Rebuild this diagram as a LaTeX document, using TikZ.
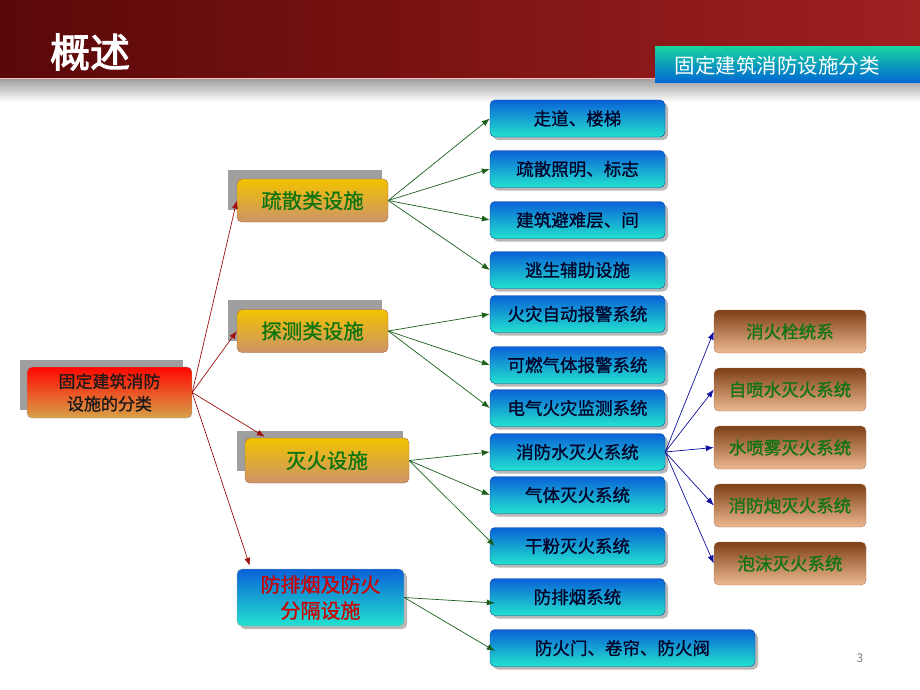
\documentclass[tikz,border=0pt]{standalone}
\usepackage{fontspec}
\setmainfont{Noto Sans CJK SC}
\newfontfamily\titlefont[FakeBold=2.5]{Noto Sans CJK SC}
\newfontfamily\boxfont[FakeBold=0.8]{Noto Sans CJK SC}
\usetikzlibrary{arrows.meta,shadows,backgrounds,calc}
\definecolor{bTop}{HTML}{0A62D8}
\definecolor{bBot}{HTML}{22E2CE}
\definecolor{brTop}{HTML}{7E4016}
\definecolor{brBot}{HTML}{EDB990}
\definecolor{gTop}{HTML}{F2C200}
\definecolor{gBot}{HTML}{CC9468}
\definecolor{txtGreen}{HTML}{0E7410}
\definecolor{lnGreen}{HTML}{1A5E1A}
\definecolor{lnRed}{HTML}{A01010}
\definecolor{lnBlue}{HTML}{1010A0}
\definecolor{bannerL}{HTML}{5A0808}
\definecolor{bannerR}{HTML}{A02020}
\definecolor{subTop}{HTML}{18D2A0}
\definecolor{subBot}{HTML}{0066D6}
\newcommand{\fsz}[2]{\fontsize{#1}{#2}\selectfont}
\tikzset{
  bluebox/.style={rounded corners=5pt, top color=bTop, bottom color=bBot, draw=bTop!70!black,
    minimum width=175pt, minimum height=37pt, inner sep=0pt, text=black!85!blue,
    font=\boxfont\fsz{17.5}{20}, drop shadow={shadow xshift=3pt, shadow yshift=-3pt, fill=gray!70, opacity=0.8}},
  brownbox/.style={rounded corners=5pt, top color=brTop, bottom color=brBot, draw=brTop!70,
    minimum width=152pt, minimum height=43pt, inner sep=0pt, text=txtGreen, font=\boxfont\fsz{17.5}{20}},
  catbox/.style={rounded corners=5pt, top color=gTop, bottom color=gBot, draw=brTop!80,
    minimum height=43pt, inner sep=0pt, text=txtGreen, font=\boxfont\fsz{20.5}{24}},
  catshadow/.style={fill=gray!75},
  redarrow/.style={draw=lnRed, line width=0.7pt, -{Latex[length=8pt,width=6pt]}},
  greenarrow/.style={draw=lnGreen, line width=0.7pt, -{Latex[length=8pt,width=6pt]}},
  bluearrow/.style={draw=lnBlue, line width=0.7pt, -{Latex[length=8pt,width=6pt]}}
}
\begin{document}
\begin{tikzpicture}[x=1pt,y=-1pt]
\useasboundingbox (0,0) rectangle (920,690);
% banner
\shade[left color=bannerL, right color=bannerR] (0,0) rectangle (920,78);
\shade[top color=gray!75, bottom color=white] (0,79) rectangle (920,102);
\draw[color=red!25!white, line width=1pt] (0,78.5) -- (920,78.5);
\node[text=white, font=\titlefont\fsz{40}{44}] (title) at (90,52) {概述};
\shade[top color=subTop, bottom color=subBot] (655,47) rectangle (920,83);
\node[text=white, font=\fsz{20.5}{24}] (subtitle) at (777,66) {固定建筑消防设施分类};
\node[text=gray, font=\fsz{12}{14}] (pagenum) at (860,658) {3};

% root
\node[rounded corners=5pt, top color=red!95!orange, bottom color=gBot!70!gTop, draw=gray!80,
  minimum width=165pt, minimum height=51pt, inner sep=0pt, align=center,
  font=\boxfont\fsz{17}{22.5}, text=black!90] (root) at (109.5,392.5) {固定建筑消防\\设施的分类};

% categories
\node[catbox, minimum width=151pt] (cat1) at (312.5,200.5) {疏散类设施};
\node[catbox, minimum width=151pt] (cat2) at (312.5,331) {探测类设施};
\node[catbox, minimum width=164pt, minimum height=45pt] (cat3) at (327,460.5) {灭火设施};
\node[rounded corners=5pt, top color=bTop, bottom color=bBot, draw=gray!70,
  minimum width=167pt, minimum height=57pt, inner sep=0pt, align=center,
  text=red!80!black, font=\boxfont\fsz{20}{26}, drop shadow={shadow xshift=3pt, shadow yshift=-3pt, fill=gray!70, opacity=0.8}]
  (cat4) at (320.5,597.5) {防排烟及防火\\分隔设施};

% blue boxes
\node[bluebox] (b1) at (577.5,118.5) {走道、楼梯};
\node[bluebox] (b2) at (577.5,169) {疏散照明、标志};
\node[bluebox] (b3) at (577.5,220) {建筑避难层、间};
\node[bluebox] (b4) at (577.5,270) {逃生辅助设施};
\node[bluebox] (b5) at (577.5,314) {火灾自动报警系统};
\node[bluebox] (b6) at (577.5,365) {可燃气体报警系统};
\node[bluebox] (b7) at (577.5,408) {电气火灾监测系统};
\node[bluebox] (b8) at (577.5,452) {消防水灭火系统};
\node[bluebox] (b9) at (577.5,495) {气体灭火系统};
\node[bluebox] (b10) at (577.5,546) {干粉灭火系统};
\node[bluebox] (b11) at (577.5,597) {防排烟系统};
\node[bluebox, minimum width=265pt] (b12) at (622.5,648) {防火门、卷帘、防火阀};

% brown boxes
\node[brownbox] (w1) at (790,331.5) {消火栓统系};
\node[brownbox] (w2) at (790,389.5) {自喷水灭火系统};
\node[brownbox] (w3) at (790,447.5) {水喷雾灭火系统};
\node[brownbox] (w4) at (790,505.5) {消防炮灭火系统};
\node[brownbox] (w5) at (790,563.5) {泡沫灭火系统};

% category shadows
\begin{pgfonlayer}{background}
\fill[catshadow] ($(cat1.north west)+(-9,-9)$) rectangle ($(cat1.south east)+(-6,-12)$);
\fill[catshadow] ($(cat2.north west)+(-9,-9)$) rectangle ($(cat2.south east)+(-6,-12)$);
\fill[catshadow] ($(cat3.north west)+(-8,-7)$) rectangle ($(cat3.south east)+(-6,-12)$);
\fill[catshadow] ($(root.north west)+(-7,-7)$) rectangle ($(root.south east)+(-9,-8)$);
\end{pgfonlayer}

% coordinates
\coordinate (rootout) at (root.east);
\coordinate (cat3in) at ($(cat3.north west)+(20,-1)$);
\coordinate (cat4in) at ($(cat4.north west)+(13,-3)$);

% red arrows
\draw[redarrow] (rootout) -- (cat1.west);
\draw[redarrow] (rootout) -- (cat2.west);
\draw[redarrow] (rootout) -- (cat3in);
\draw[redarrow] (rootout) -- (cat4in);

% green arrows
\foreach \t in {b1,b2,b3,b4} \draw[greenarrow] (cat1.east) -- (\t.west);
\foreach \t in {b5,b6,b7} \draw[greenarrow] (cat2.east) -- (\t.west);
\draw[greenarrow] (cat3.east) -- (b8.west);
\draw[greenarrow] (cat3.east) -- (b9.west);
\draw[greenarrow] (cat3.east) -- ($(b10.west)+(5,0)$);
\draw[greenarrow] (cat4.east) -- ($(b11.west)+(5,6)$);
\draw[greenarrow] (cat4.east) -- ($(b12.west)+(5,3)$);

% blue arrows
\foreach \t in {w1,w2,w3,w4,w5} \draw[bluearrow] (b8.east) -- (\t.west);
\end{tikzpicture}
\end{document}
